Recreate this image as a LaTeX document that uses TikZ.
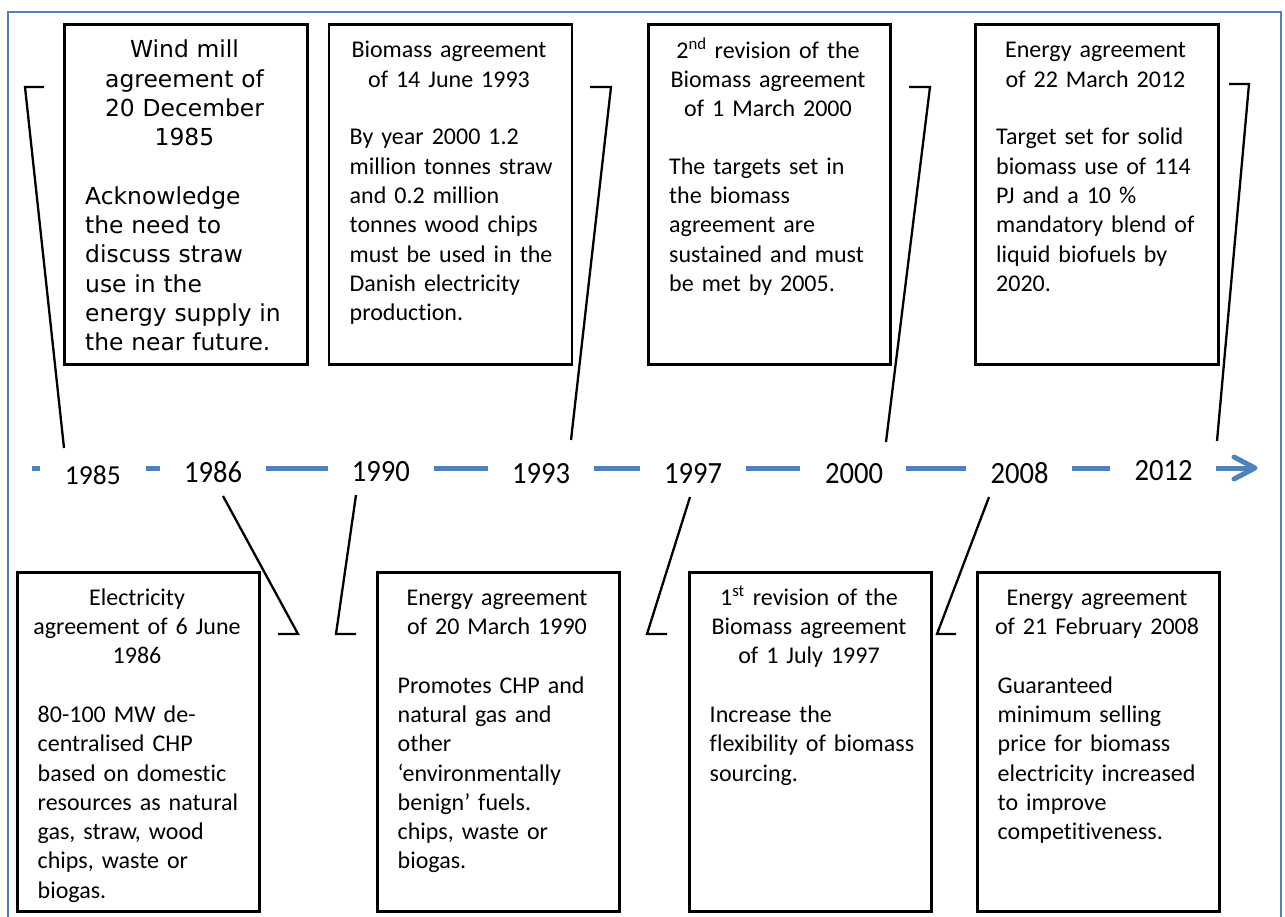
\documentclass[tikz,border=0pt]{standalone}
\usepackage{fontspec}
\setmainfont{Carlito}[Ligatures=NoCommon]
\newfontfamily\verdanalike{DejaVu Sans}
\definecolor{tlblue}{RGB}{79,129,189}
% invisible strut that fixes the height of the first line of a card text
\newcommand\lnstrut{\rule{0pt}{20pt}}
\newcommand\yrtxt[1]{\scalebox{1}[1.08]{#1}}
\begin{document}
\begin{tikzpicture}[x=1pt,y=-1pt,
  frame/.style={draw=tlblue,line width=1.8pt},
  tl/.style={draw=tlblue,line width=5pt,line cap=butt},
  card/.style={draw=black,line width=2.7pt,anchor=north west,inner sep=0pt,
               minimum width=243pt,minimum height=340pt},
  cardtitle/.style={anchor=north,inner sep=0pt,text width=240pt,align=center,
               font=\fontsize{24}{29.3}\selectfont},
  cardbody/.style={anchor=north west,inner sep=0pt,text width=230pt,align=left,
               font=\fontsize{24}{29.3}\selectfont},
  year/.style={inner sep=0pt,font=\fontsize{28.6}{30}\selectfont},
  yearsm/.style={inner sep=0pt,font=\fontsize{27.5}{30}\selectfont},
  callout/.style={draw=black,line width=2.3pt,line join=miter}
]
\useasboundingbox (0,0) rectangle (1285,916);
\clip (0,0) rectangle (1285,916);

% outer frame
\draw[frame] (8,12) rectangle (1281,940);

% ---------- timeline ----------
\foreach \a/\b in {32/40,146/160,266/328,434/488,594/640,746/800,906/966,1072/1110}
  \draw[tl] (\a,468) -- (\b,468);
\draw[tl] (1216,468) -- (1253,468);
\draw[tl,line cap=round,line join=round] (1234,457) -- (1255,468) -- (1234,479);

\node[yearsm] (y1985) at (92.8,475)  {1985};
\node[year]   (y1986) at (213.2,472) {\yrtxt{1986}};
\node[year]   (y1990) at (380.8,472) {\yrtxt{1990}};
\node[year]   (y1993) at (541,473.5) {\yrtxt{1993}};
\node[year]   (y1997) at (693.2,473.5) {\yrtxt{1997}};
\node[year]   (y2000) at (854.2,473.5) {\yrtxt{2000}};
\node[year]   (y2008) at (1019.5,473.5) {\yrtxt{2008}};
\node[year]   (y2012) at (1163.7,471) {\yrtxt{2012}};

% ---------- upper cards ----------
\node[card] (c1985) at (63,23) {};
\node[cardtitle,font=\verdanalike\fontsize{23.4}{29.3}\selectfont] (t1985) at (184.5,37.5)
  {\lnstrut Wind mill\\agreement of\\20 December\\1985};
\node[cardbody,font=\verdanalike\fontsize{23.4}{29.3}\selectfont] (b1985) at (85,184)
  {\lnstrut Acknowledge\\the need to\\discuss straw\\use in the\\energy supply in\\the near future.};

\node[card] (c1993) at (327.5,23) {};
\node[cardtitle] (t1993) at (449,37.5)
  {\lnstrut Biomass agreement\\of 14 June 1993};
\node[cardbody] (b1993) at (349.5,124.7)
  {\lnstrut By year 2000 1.2\\million tonnes straw\\and 0.2 million\\tonnes wood chips\\must be used in the\\Danish electricity\\production.};

\node[card,minimum width=242pt] (c2000) at (647,23) {};
\node[cardtitle] (t2000) at (768,37.5)
  {\lnstrut 2\textsuperscript{nd} revision of the\\Biomass agreement\\of 1 March 2000};
\node[cardbody] (b2000) at (669,154)
  {\lnstrut The targets set in\\the biomass\\agreement are\\sustained and must\\be met by 2005.};

\node[card] (c2012) at (974,23) {};
\node[cardtitle] (t2012) at (1095.5,37.5)
  {\lnstrut Energy agreement\\of 22 March 2012};
\node[cardbody] (b2012) at (996,124.7)
  {\lnstrut Target set for solid\\biomass use of 114\\PJ and a 10 \%\\mandatory blend of\\liquid biofuels by\\2020.};

% ---------- lower cards ----------
\node[card,minimum width=242pt,minimum height=339pt] (c1986) at (16,571) {};
\node[cardtitle] (t1986) at (137,585)
  {\lnstrut Electricity\\agreement of 6 June\\1986};
\node[cardbody] (b1986) at (37.5,702.2)
  {\lnstrut 80-100 MW de-\\centralised CHP\\based on domestic\\resources as natural\\gas, straw, wood\\chips, waste or\\biogas.};

\node[card,minimum width=242pt,minimum height=339pt] (c1990) at (376,571) {};
\node[cardtitle] (t1990) at (497,585)
  {\lnstrut Energy agreement\\of 20 March 1990};
\node[cardbody] (b1990) at (397.5,672.9)
  {\lnstrut Promotes CHP and\\natural gas and\\other\\‘environmentally\\benign’ fuels.\\chips, waste or\\biogas.};

\node[card,minimum width=242pt,minimum height=339pt] (c1997) at (688,571) {};
\node[cardtitle] (t1997) at (809,585)
  {\lnstrut 1\textsuperscript{st} revision of the\\Biomass agreement\\of 1 July 1997};
\node[cardbody] (b1997) at (709.5,702.2)
  {\lnstrut Increase the\\flexibility of biomass\\sourcing.};

\node[card,minimum width=242pt,minimum height=339pt] (c2008) at (976,571) {};
\node[cardtitle] (t2008) at (1097,585)
  {\lnstrut Energy agreement\\of 21 February 2008};
\node[cardbody] (b2008) at (997.5,672.9)
  {\lnstrut Guaranteed\\minimum selling\\price for biomass\\electricity increased\\to improve\\competitiveness.};

% ---------- callout leaders (card side -> year side) ----------
\coordinate (k1985a) at (44,87);   \coordinate (k1985b) at (25,87);   \coordinate (k1985c) at (64,448);
\coordinate (k1993a) at (590,87);  \coordinate (k1993b) at (611,87);  \coordinate (k1993c) at (571,440);
\coordinate (k2000a) at (909,87);  \coordinate (k2000b) at (930,87);  \coordinate (k2000c) at (886,442);
\coordinate (k2012a) at (1229,84); \coordinate (k2012b) at (1249,84); \coordinate (k2012c) at (1217,441);
\draw[callout] (k1985a) -- (k1985b) -- (k1985c);
\draw[callout] (k1993a) -- (k1993b) -- (k1993c);
\draw[callout] (k2000a) -- (k2000b) -- (k2000c);
\draw[callout] (k2012a) -- (k2012b) -- (k2012c);

\coordinate (k1986a) at (278,634); \coordinate (k1986b) at (298,634); \coordinate (k1986c) at (223,496);
\coordinate (k1990a) at (356,634); \coordinate (k1990b) at (336,634); \coordinate (k1990c) at (356,495);
\coordinate (k1997a) at (667,634); \coordinate (k1997b) at (647,634); \coordinate (k1997c) at (690,497);
\coordinate (k2008a) at (956,634); \coordinate (k2008b) at (937,634); \coordinate (k2008c) at (989,497);
\draw[callout] (k1986a) -- (k1986b) -- (k1986c);
\draw[callout] (k1990a) -- (k1990b) -- (k1990c);
\draw[callout] (k1997a) -- (k1997b) -- (k1997c);
\draw[callout] (k2008a) -- (k2008b) -- (k2008c);
\end{tikzpicture}
\end{document}
